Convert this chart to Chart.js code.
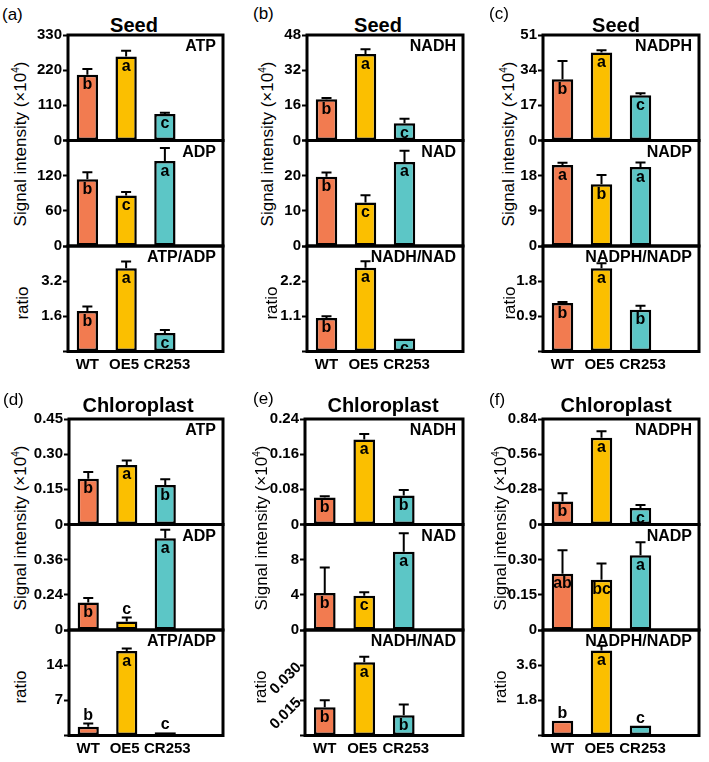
<!DOCTYPE html>
<html>
<head>
<meta charset="utf-8">
<script src="https://cdn.jsdelivr.net/npm/chart.js@4.4.0/dist/chart.umd.min.js"></script>
<style>
  body { margin: 0; background: #fff; }
  #fig { position: relative; width: 709px; height: 762px; overflow: hidden; font-family: "Liberation Sans", Arial, sans-serif; }
  #fig canvas { position: absolute; }
  .txt { position: absolute; white-space: nowrap; color: #000; line-height: 1; }
  .tag { font-size: 17px; }
  .ttl { font-size: 20px; font-weight: bold; transform: translate(-50%, -50%); }
  .ylab { font-size: 17px; transform: translate(-50%, -50%) rotate(-90deg); }
  .ylab sup { font-size: 10px; vertical-align: 7px; }
</style>
</head>
<body>
<div id="fig"></div>
<script>
var groups = ['WT', 'OE5', 'CR253'];
var colors = ['#F27B50', '#FBBF00', '#5CC6C6'];

// (a) seed ATP, ADP, ATP/ADP
var seedAtp = [206, 263, 83];
var seedAtpErr = [18, 18, 4];
var seedAtpSig = ['b', 'a', 'c'];
var seedAtpTicks = ['0', '110', '220', '330'];
var seedAdp = [114, 86, 145];
var seedAdpErr = [12, 6, 22];
var seedAdpSig = ['b', 'c', 'a'];
var seedAdpTicks = ['0', '60', '120', '180'];
var seedAtpAdp = [1.84, 3.79, 0.84];
var seedAtpAdpErr = [0.21, 0.30, 0.14];
var seedAtpAdpSig = ['b', 'a', 'c'];
var seedAtpAdpTicks = ['0', '1.6', '3.2', '4.8'];

// (b) seed NADH, NAD, NADH/NAD
var seedNadh = [18.8, 39.3, 7.9];
var seedNadhErr = [0.5, 2.2, 2.0];
var seedNadhSig = ['b', 'a', 'c'];
var seedNadhTicks = ['0', '16', '32', '48'];
var seedNad = [19.7, 12.4, 23.9];
var seedNadErr = [1.2, 2.0, 3.2];
var seedNadSig = ['b', 'c', 'a'];
var seedNadTicks = ['0', '10', '20', '30'];
var seedNadhNad = [1.05, 2.62, 0.41];
var seedNadhNadErr = [0.05, 0.2, 0];
var seedNadhNadSig = ['b', 'a', 'c'];
var seedNadhNadTicks = ['0', '1.1', '2.2', '3.3'];

// (c) seed NADPH, NADP, NADPH/NADP
var seedNadph = [29.6, 42.6, 21.9];
var seedNadphErr = [8.8, 1.0, 0.9];
var seedNadphSig = ['b', 'a', 'c'];
var seedNadphTicks = ['0', '17', '34', '51'];
var seedNadp = [20.7, 15.8, 20.2];
var seedNadpErr = [0.6, 2.4, 1.2];
var seedNadpSig = ['a', 'b', 'a'];
var seedNadpTicks = ['0', '9', '18', '27'];
var seedNadphNadp = [1.24, 2.13, 1.07];
var seedNadphNadpErr = [0.03, 0.13, 0.10];
var seedNadphNadpSig = ['b', 'a', 'b'];
var seedNadphNadpTicks = ['0', '0.9', '1.8', '2.7'];

// (d) chloroplast ATP, ADP, ATP/ADP
var chlAtp = [0.195, 0.254, 0.168];
var chlAtpErr = [0.029, 0.019, 0.025];
var chlAtpSig = ['b', 'a', 'b'];
var chlAtpTicks = ['0', '0.15', '0.30', '0.45'];
var chlAdp = [0.094, 0.029, 0.313];
var chlAdpErr = [0.015, 0.014, 0.029];
var chlAdpSig = ['b', 'c', 'a'];
var chlAdpTicks = ['0', '0.12', '0.24', '0.36'];
var chlAdpTickText = ['0', '0.24', '0.36', ''];
var chlAtpAdp = [1.73, 16.8, 0.63];
var chlAtpAdpErr = [0.67, 0.5, 0];
var chlAtpAdpSig = ['b', 'a', 'c'];
var chlAtpAdpTicks = ['0', '7', '14', '21'];

// (e) chloroplast NADH, NAD, NADH/NAD
var chlNadh = [0.0614, 0.1936, 0.0659];
var chlNadhErr = [0.003, 0.012, 0.0126];
var chlNadhSig = ['b', 'a', 'b'];
var chlNadhTicks = ['0', '0.08', '0.16', '0.24'];
var chlNad = [4.2, 3.9, 8.9];
var chlNadErr = [2.9, 0.4, 2.1];
var chlNadSig = ['b', 'c', 'a'];
var chlNadTicks = ['0', '4', '8', '12'];
var chlNadhNad = [0.012, 0.0312, 0.0086];
var chlNadhNadErr = [0.003, 0.0024, 0.0046];
var chlNadhNadSig = ['b', 'a', 'b'];
var chlNadhNadTicks = ['0', '0.015', '0.030', '0.045'];

// (f) chloroplast NADPH, NADP, NADPH/NADP
var chlNadph = [0.184, 0.69, 0.131];
var chlNadphErr = [0.065, 0.053, 0.024];
var chlNadphSig = ['b', 'a', 'c'];
var chlNadphTicks = ['0', '0.28', '0.56', '0.84'];
var chlNadp = [0.24, 0.214, 0.319];
var chlNadpErr = [0.10, 0.07, 0.055];
var chlNadpSig = ['ab', 'bc', 'a'];
var chlNadpTicks = ['0', '0.15', '0.30', '0.45'];
var chlNadphNadp = [0.75, 4.35, 0.51];
var chlNadphNadpErr = [0, 0.25, 0];
var chlNadphNadpSig = ['b', 'a', 'c'];
var chlNadphNadpTicks = ['0', '1.8', '3.6', '5.4'];

// layout of the six panels
var SUB_H = 105.5, AXIS_W = 62, X_H = 32, PAD = 30;
var panels = [
  { tag: '(a)', tagX: 2, tagY: 15, title: 'Seed', titleX: 134, titleY: 25, left: 68, top: 35, width: 155, yTitleX: 20, ratioX: 22,
    rows: [
      { name: 'ATP', data: seedAtp, err: seedAtpErr, sig: seedAtpSig, ticks: seedAtpTicks },
      { name: 'ADP', data: seedAdp, err: seedAdpErr, sig: seedAdpSig, ticks: seedAdpTicks },
      { name: 'ATP/ADP', data: seedAtpAdp, err: seedAtpAdpErr, sig: seedAtpAdpSig, ticks: seedAtpAdpTicks }
    ] },
  { tag: '(b)', tagX: 253, tagY: 14, title: 'Seed', titleX: 378, titleY: 25, left: 307, top: 35, width: 156, yTitleX: 267, ratioX: 271,
    rows: [
      { name: 'NADH', data: seedNadh, err: seedNadhErr, sig: seedNadhSig, ticks: seedNadhTicks },
      { name: 'NAD', data: seedNad, err: seedNadErr, sig: seedNadSig, ticks: seedNadTicks },
      { name: 'NADH/NAD', data: seedNadhNad, err: seedNadhNadErr, sig: seedNadhNadSig, ticks: seedNadhNadTicks }
    ] },
  { tag: '(c)', tagX: 489, tagY: 14, title: 'Seed', titleX: 616, titleY: 25, left: 543, top: 35, width: 156, yTitleX: 508, ratioX: 509,
    rows: [
      { name: 'NADPH', data: seedNadph, err: seedNadphErr, sig: seedNadphSig, ticks: seedNadphTicks },
      { name: 'NADP', data: seedNadp, err: seedNadpErr, sig: seedNadpSig, ticks: seedNadpTicks },
      { name: 'NADPH/NADP', data: seedNadphNadp, err: seedNadphNadpErr, sig: seedNadphNadpSig, ticks: seedNadphNadpTicks }
    ] },
  { tag: '(d)', tagX: 3, tagY: 400, title: 'Chloroplast', titleX: 138, titleY: 405, left: 69, top: 419, width: 154, yTitleX: 20, ratioX: 20,
    rows: [
      { name: 'ATP', data: chlAtp, err: chlAtpErr, sig: chlAtpSig, ticks: chlAtpTicks },
      { name: 'ADP', data: chlAdp, err: chlAdpErr, sig: chlAdpSig, ticks: chlAdpTicks, text: chlAdpTickText, above: [false, true, false] },
      { name: 'ATP/ADP', data: chlAtpAdp, err: chlAtpAdpErr, sig: chlAtpAdpSig, ticks: chlAtpAdpTicks, above: [true, false, true] }
    ] },
  { tag: '(e)', tagX: 253, tagY: 399, title: 'Chloroplast', titleX: 383, titleY: 405, left: 305, top: 419, width: 158, yTitleX: 261, ratioX: 260,
    rows: [
      { name: 'NADH', data: chlNadh, err: chlNadhErr, sig: chlNadhSig, ticks: chlNadhTicks },
      { name: 'NAD', data: chlNad, err: chlNadErr, sig: chlNadSig, ticks: chlNadTicks },
      { name: 'NADH/NAD', data: chlNadhNad, err: chlNadhNadErr, sig: chlNadhNadSig, ticks: chlNadhNadTicks, rot: 45 }
    ] },
  { tag: '(f)', tagX: 489, tagY: 400, title: 'Chloroplast', titleX: 616, titleY: 405, left: 543, top: 419, width: 156, yTitleX: 500, ratioX: 500,
    rows: [
      { name: 'NADPH', data: chlNadph, err: chlNadphErr, sig: chlNadphSig, ticks: chlNadphTicks },
      { name: 'NADP', data: chlNadp, err: chlNadpErr, sig: chlNadpSig, ticks: chlNadpTicks },
      { name: 'NADPH/NADP', data: chlNadphNadp, err: chlNadphNadpErr, sig: chlNadphNadpSig, ticks: chlNadphNadpTicks, above: [true, false, true] }
    ] }
];

var FONT = '"Liberation Sans", Arial, sans-serif';
Chart.defaults.font.family = FONT;

// error bars, letters, frame and the row name
var decor = {
  id: 'decor',
  afterDatasetsDraw: function(chart) {
    var o = chart.options.plugins.decor;
    var ctx = chart.ctx, ys = chart.scales.y, a = chart.chartArea;
    var bars = chart.getDatasetMeta(0).data;
    ctx.save();
    ctx.strokeStyle = '#000';
    ctx.fillStyle = '#000';
    ctx.lineWidth = 2;
    bars.forEach(function(bar, i) {
      if (o.data[i] == null) return;
      var x = bar.x;
      var yTop = ys.getPixelForValue(o.data[i]);
      var yErr = ys.getPixelForValue(o.data[i] + o.err[i]);
      if (o.err[i] > 0) {
        ctx.beginPath();
        ctx.moveTo(x, yTop);
        ctx.lineTo(x, yErr);
        ctx.moveTo(x - 5, yErr);
        ctx.lineTo(x + 5, yErr);
        ctx.stroke();
      }
      ctx.font = 'bold 16px ' + FONT;
      ctx.textAlign = 'center';
      ctx.textBaseline = 'alphabetic';
      if (o.above && o.above[i]) ctx.fillText(o.sig[i], x, Math.min(yErr, yTop) - 3);
      else ctx.fillText(o.sig[i], x, yTop + 14.5);
    });
    ctx.lineWidth = 3;
    ctx.strokeRect(a.left, a.top, a.right - a.left, a.bottom - a.top);
    ctx.font = 'bold 16px ' + FONT;
    ctx.textAlign = 'right';
    ctx.fillText(o.name, a.right - 7, a.top + 16);
    ctx.restore();
  }
};

var fig = document.getElementById('fig');

function addText(cls, html, x, y) {
  var d = document.createElement('div');
  d.className = 'txt ' + cls;
  d.innerHTML = html;
  d.style.left = x + 'px';
  d.style.top = y + 'px';
  fig.appendChild(d);
  return d;
}

// the group names sit a little apart so OE5 and CR253 do not touch
function groupText(v, i) {
  if (i === 1) return groups[1] + ' ';
  if (i === 2) return ' ' + groups[2];
  return groups[i] || '';
}

function makeSub(p, k) {
  var r = p.rows[k];
  var last = k === 2;
  var frameTop = p.top + k * SUB_H;
  var cTop = Math.floor(frameTop) - PAD;
  var padTop = frameTop - cTop;
  var h = Math.ceil(padTop + SUB_H + (last ? X_H : 0) + PAD);
  var w = AXIS_W + p.width + PAD;
  var cv = document.createElement('canvas');
  cv.width = w; cv.height = h;
  cv.style.left = (p.left - AXIS_W) + 'px';
  cv.style.top = cTop + 'px';
  cv.style.width = w + 'px';
  cv.style.height = h + 'px';
  fig.appendChild(cv);

  var tickVals = r.ticks.map(parseFloat);
  var tickText = r.text || r.ticks.map(function(t, i) {
    if (k === 1 && i === 3) return '';
    if (k === 2 && (i === 0 || i === 3)) return '';
    return t;
  });

  var want = { left: AXIS_W, top: padTop, right: AXIS_W + p.width, bottom: padTop + SUB_H };
  var pad = { top: padTop, right: PAD, bottom: h - want.bottom - (last ? X_H : 0), left: 0 };

  var chart = new Chart(cv, {
    type: 'bar',
    data: {
      labels: groups.concat(['']),
      datasets: [{
        data: r.data,
        backgroundColor: colors,
        borderColor: '#000',
        borderWidth: 2.5,
        borderSkipped: false,
        barPercentage: 0.55,
        categoryPercentage: 1
      }]
    },
    options: {
      responsive: false,
      animation: false,
      devicePixelRatio: 1,
      layout: { padding: pad },
      plugins: {
        legend: { display: false },
        tooltip: { enabled: false },
        decor: { data: r.data, err: r.err, sig: r.sig, name: r.name, above: r.above }
      },
      scales: {
        x: {
          display: last,
          grid: { display: false },
          border: { display: false },
          ticks: { color: '#000', font: { size: 15, weight: 'bold' }, padding: -4, maxRotation: 0, autoSkip: false, callback: groupText },
          afterFit: function(s) { s.height = last ? X_H : 0; }
        },
        y: {
          min: 0,
          max: tickVals[3],
          grid: { display: true, drawOnChartArea: false, drawTicks: true, tickLength: 5, tickWidth: 2, tickColor: '#000' },
          border: { display: false },
          afterBuildTicks: function(s) { s.ticks = tickVals.map(function(v) { return { value: v }; }); },
          ticks: {
            color: '#000',
            font: { size: 15, weight: 'bold' },
            padding: 1,
            autoSkip: false,
            minRotation: r.rot || 0,
            maxRotation: r.rot || 0,
            callback: function(v, i) { return tickText[i]; }
          },
          afterFit: function(s) { s.width = AXIS_W; }
        }
      }
    },
    plugins: [decor]
  });

  // nudge the padding so the plot area lands exactly on the frame
  for (var it = 0; it < 3; it++) {
    var a = chart.chartArea;
    pad = {
      top: pad.top + (want.top - a.top),
      left: pad.left + (want.left - a.left),
      right: pad.right + (a.right - want.right),
      bottom: pad.bottom + (a.bottom - want.bottom)
    };
    chart.options.layout.padding = pad;
    chart.update();
  }
}

panels.forEach(function(p) {
  addText('tag', p.tag, p.tagX, p.tagY - 9);
  addText('ttl', p.title, p.titleX, p.titleY);
  addText('ylab', 'Signal intensity (\u00d710<sup>4</sup>)', p.yTitleX, p.top + SUB_H + 3);
  addText('ylab', 'ratio', p.ratioX, p.top + SUB_H * 2.5 + 4);
  for (var k = 0; k < 3; k++) makeSub(p, k);
});
</script>
</body>
</html>
